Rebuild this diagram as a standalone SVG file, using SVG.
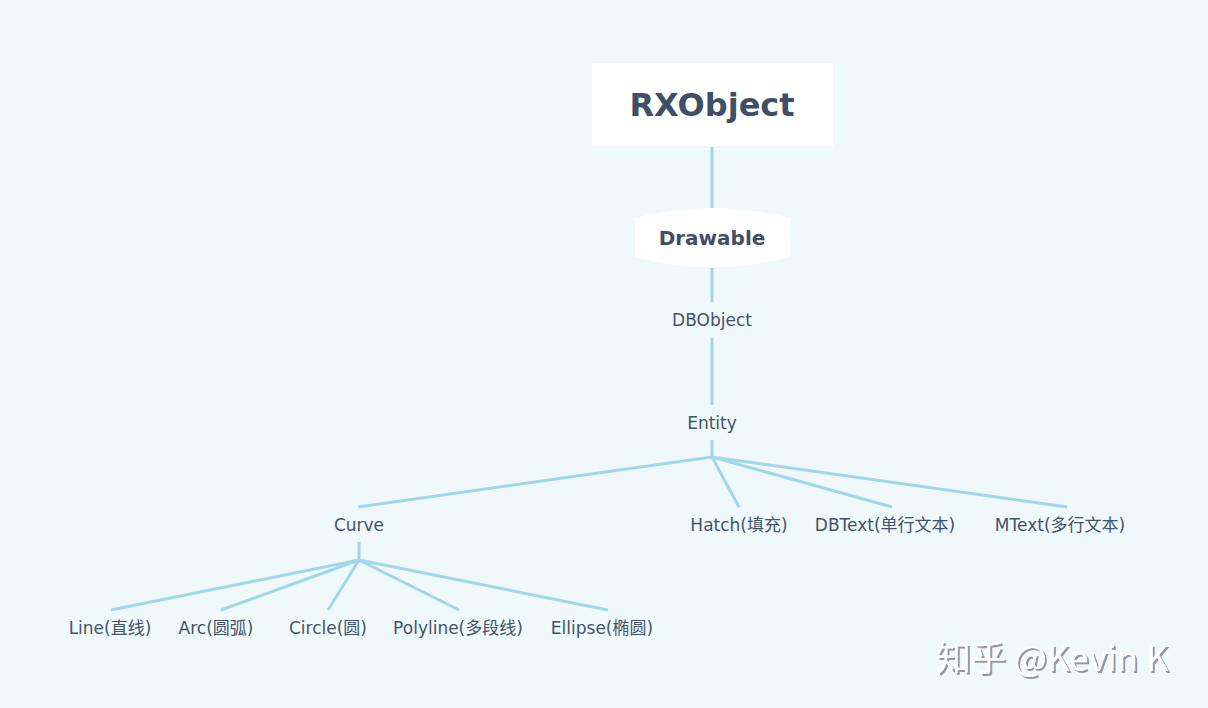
<svg xmlns="http://www.w3.org/2000/svg" width="1208" height="708" viewBox="0 0 1208 708">
<defs>
<style>
.lbl{font-family:"DejaVu Sans","Noto Sans CJK SC",sans-serif;font-size:17px;fill:#45536a;text-anchor:middle;dominant-baseline:central}
.big{font-family:"DejaVu Sans","Noto Sans CJK SC",sans-serif;font-weight:bold;fill:#3f4f67;text-anchor:middle;dominant-baseline:central}
.ln{stroke:#a2d7ea;stroke-width:3;fill:none;stroke-linecap:butt}
.wm{font-family:"Noto Sans CJK SC","Noto Sans",sans-serif;font-size:35px;fill:#ffffff}
</style>
<filter id="sh" x="-10%" y="-30%" width="120%" height="160%">
<feDropShadow dx="2" dy="2" stdDeviation="0.6" flood-color="#8a8f94" flood-opacity="0.9"/>
</filter>
</defs>
<rect width="1208" height="708" fill="#eff8fb"/>
<g id="connectors">
<line class="ln" x1="712" y1="147" x2="712" y2="209"/>
<line class="ln" x1="712" y1="268" x2="712" y2="302"/>
<line class="ln" x1="712" y1="338" x2="712" y2="405"/>
<polyline class="ln" points="712,440 712,457 358,507"/>
<line class="ln" x1="712" y1="457" x2="739" y2="507"/>
<line class="ln" x1="712" y1="457" x2="892" y2="507"/>
<line class="ln" x1="712" y1="457" x2="1067" y2="507"/>
<polyline class="ln" points="359,542 359,560 111,610"/>
<line class="ln" x1="359" y1="560" x2="221" y2="610"/>
<line class="ln" x1="359" y1="560" x2="328" y2="610"/>
<line class="ln" x1="359" y1="560" x2="459" y2="610"/>
<line class="ln" x1="359" y1="560" x2="608" y2="610"/>
</g>
<g id="rxobject">
<rect x="592" y="63" width="241" height="83" fill="#ffffff"/>
<text class="big" x="712" y="105" font-size="32">RXObject</text>
</g>
<g id="drawable">
<path d="M635,218 Q712,198 790,218 L790,257 Q712,278 635,257 Z" fill="#ffffff"/>
<text class="big" x="712" y="238" font-size="20">Drawable</text>
</g>
<g id="dbobject"><text class="lbl" x="712" y="320">DBObject</text></g>
<g id="entity"><text class="lbl" x="712" y="423">Entity</text></g>
<g id="curve"><text class="lbl" x="359" y="525">Curve</text></g>
<g id="hatch"><text class="lbl" x="739" y="525">Hatch(填充)</text></g>
<g id="dbtext"><text class="lbl" x="885" y="525">DBText(单行文本)</text></g>
<g id="mtext"><text class="lbl" x="1060" y="525">MText(多行文本)</text></g>
<g id="line"><text class="lbl" x="110" y="628">Line(直线)</text></g>
<g id="arc"><text class="lbl" x="216" y="628">Arc(圆弧)</text></g>
<g id="circle"><text class="lbl" x="328" y="628">Circle(圆)</text></g>
<g id="polyline"><text class="lbl" x="458" y="628">Polyline(多段线)</text></g>
<g id="ellipse"><text class="lbl" x="602" y="628">Ellipse(椭圆)</text></g>
<text class="wm" x="936" y="671" filter="url(#sh)">知乎 @Kevin K</text>
</svg>
